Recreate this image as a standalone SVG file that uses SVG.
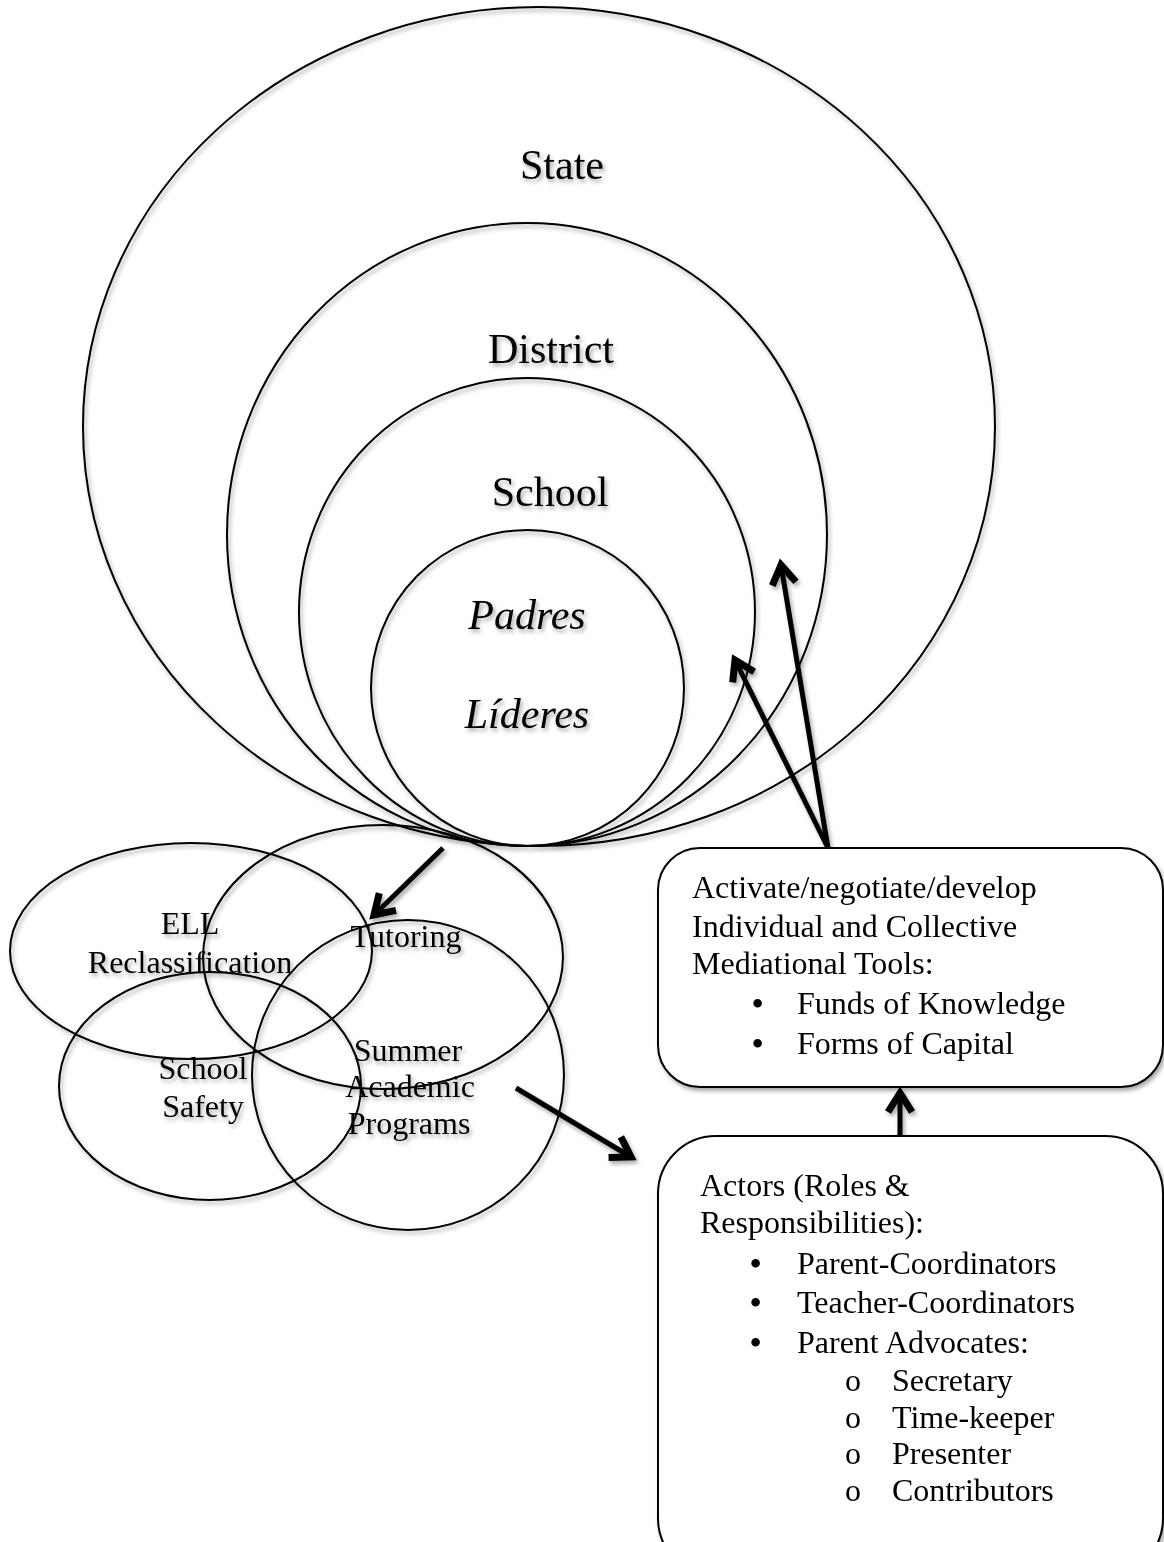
<svg xmlns="http://www.w3.org/2000/svg" width="1164" height="1542" viewBox="0 0 1164 1542">
<defs>
<filter id="sh" x="-20%" y="-20%" width="140%" height="140%">
<feDropShadow dx="2" dy="3" stdDeviation="2" flood-color="#000" flood-opacity="0.35"/>
</filter>
<marker id="ah" markerUnits="userSpaceOnUse" markerWidth="44" markerHeight="44" viewBox="-32 -22 44 44" refX="0" refY="0" orient="auto">
<path d="M-19,-12 L0,0 L-19,12" fill="none" stroke="#000" stroke-width="7" stroke-linecap="butt" stroke-linejoin="miter"/>
</marker>
<style>
.c{fill:none;stroke:#000;stroke-width:2}
.b{fill:#fff;stroke:#000;stroke-width:2}
.t{font-family:"Liberation Serif","Times New Roman",serif;fill:#000}
.big{font-size:42px;text-anchor:middle}
.it{font-style:italic}
.sm{font-size:32px}
.bu{font-size:32px;font-weight:bold}
.mid{text-anchor:middle}
.a{fill:none;stroke:#000;stroke-width:5;marker-end:url(#ah)}
</style>
</defs>
<rect width="1164" height="1542" fill="#fff"/>
<g filter="url(#sh)">
<g id="state"><ellipse class="c" cx="539" cy="426.5" rx="456" ry="419.5"/><text class="t big" x="562" y="179">State</text></g>
<g id="district"><ellipse class="c" cx="527" cy="534.5" rx="300" ry="311.5"/><text class="t big" x="551" y="363">District</text></g>
<g id="school"><ellipse class="c" cx="527" cy="612" rx="228" ry="234"/><text class="t big" x="550" y="506">School</text></g>
<g id="padres"><ellipse class="c" cx="527.5" cy="688" rx="156.5" ry="158"/><text class="t big it" x="527" y="629">Padres</text><text class="t big it" x="527" y="728">Líderes</text></g>
<g id="ell"><ellipse class="c" cx="191" cy="951" rx="181" ry="108"/><text class="t sm mid" x="190" y="934">ELL</text><text class="t sm mid" x="190" y="973">Reclassification</text></g>
<g id="tutoring"><ellipse class="c" cx="383" cy="957" rx="180" ry="132"/><text class="t sm mid" x="406" y="947">Tutoring</text></g>
<g id="safety"><ellipse class="c" cx="210" cy="1086" rx="151" ry="114"/><text class="t sm mid" x="203" y="1079">School</text><text class="t sm mid" x="203" y="1117">Safety</text></g>
<g id="summer"><ellipse class="c" cx="408" cy="1075" rx="156" ry="155"/><text class="t sm mid" x="408" y="1061">Summer</text><text class="t sm mid" x="410" y="1097">Academic</text><text class="t sm mid" x="409" y="1134">Programs</text></g>
<g id="tools"><rect class="b" x="658" y="848" width="505" height="239" rx="42" ry="42"/>
<text class="t sm" x="692" y="898">Activate/negotiate/develop</text>
<text class="t sm" x="692" y="937">Individual and Collective</text>
<text class="t sm" x="692" y="974">Mediational Tools:</text>
<text class="t bu" x="752" y="1014">•</text><text class="t sm" x="797" y="1014">Funds of Knowledge</text>
<text class="t bu" x="752" y="1054">•</text><text class="t sm" x="797" y="1054">Forms of Capital</text>
</g>
<g id="actors"><rect class="b" x="658" y="1136" width="505" height="440" rx="58" ry="58"/>
<text class="t sm" x="700" y="1196">Actors (Roles &amp;</text>
<text class="t sm" x="700" y="1233">Responsibilities):</text>
<text class="t bu" x="750" y="1274">•</text><text class="t sm" x="797" y="1274">Parent-Coordinators</text>
<text class="t bu" x="750" y="1313">•</text><text class="t sm" x="797" y="1313">Teacher-Coordinators</text>
<text class="t bu" x="750" y="1353">•</text><text class="t sm" x="797" y="1353">Parent Advocates:</text>
<text class="t sm" x="845" y="1391">o</text><text class="t sm" x="892" y="1391">Secretary</text>
<text class="t sm" x="845" y="1428">o</text><text class="t sm" x="892" y="1428">Time-keeper</text>
<text class="t sm" x="845" y="1464">o</text><text class="t sm" x="892" y="1464">Presenter</text>
<text class="t sm" x="845" y="1501">o</text><text class="t sm" x="892" y="1501">Contributors</text>
</g>
<g id="connectors">
<line class="a" x1="828" y1="848" x2="735" y2="660"/>
<line class="a" x1="828" y1="848" x2="781" y2="565"/>
<line class="a" x1="443" y1="848" x2="374" y2="915"/>
<line class="a" x1="516" y1="1088" x2="631" y2="1157"/>
<line class="a" x1="900" y1="1136" x2="900" y2="1093"/>
</g>
</g>
</svg>
